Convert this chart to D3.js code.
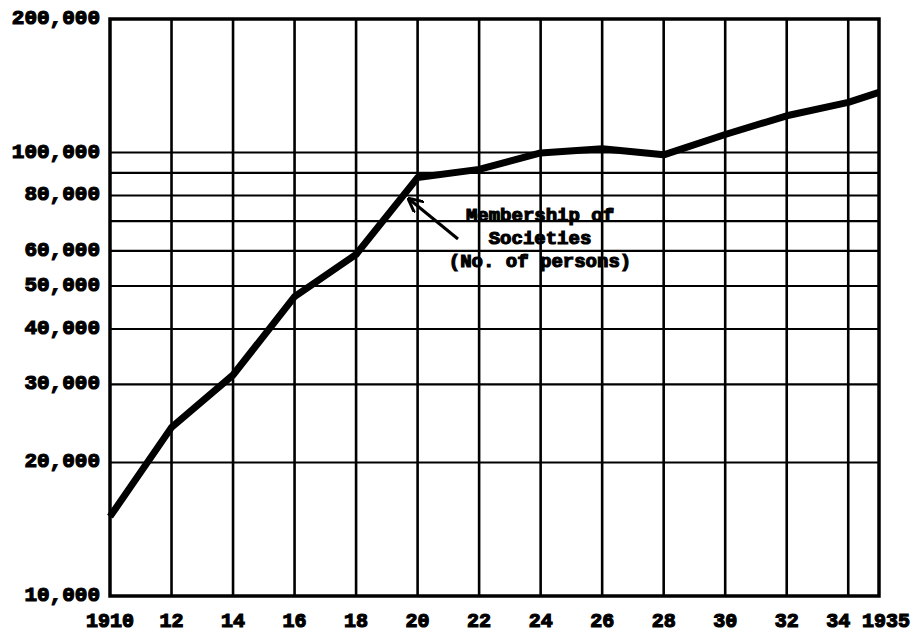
<!doctype html>
<html lang="en">
<head>
<meta charset="utf-8">
<title>Membership of Societies</title>
<script src="https://d3js.org/d3.v7.min.js"></script>
<style>
body { margin: 0; background: #fff; }
svg { display: block; }
text {
  font-family: 'Liberation Mono', 'DejaVu Sans Mono', monospace;
  font-weight: bold;
  font-size: 21px;
  fill: #000;
  stroke: #000;
  stroke-width: 1.2px;
}
.grid line { stroke: #000; }
</style>
</head>
<body>
<svg width="923" height="635"></svg>
<script>
// membership of societies, number of persons (log scale)
const years = [1910, 1912, 1914, 1916, 1918, 1920, 1922, 1924, 1926, 1928, 1930, 1932, 1934, 1935];
const members = [15100, 24000, 31500, 47300, 58900, 87800, 91600, 99800, 102000, 98800, 109800, 121000, 129700, 136600];

const xTickYears = [1910, 1912, 1914, 1916, 1918, 1920, 1922, 1924, 1926, 1928, 1930, 1932, 1934, 1935];
const xTickLabels = ['1910', '12', '14', '16', '18', '20', '22', '24', '26', '28', '30', '32', '34', '1935'];
const yGridValues = [20000, 30000, 40000, 50000, 60000, 70000, 80000, 90000, 100000];
const yLabelValues = [10000, 20000, 30000, 40000, 50000, 60000, 80000, 100000, 200000];

const annotation = ['Membership of', 'Societies', '(No. of persons)'];

const svg = d3.select('svg');
const mLeft = 110, mRight = 879, mTop = 19, mBottom = 596;

const x = d3.scaleLinear().domain([1910, 1935]).range([mLeft, mRight]);
const y = d3.scaleLog().domain([10000, 200000]).range([mBottom, mTop]);

// horizontal grid
svg.append('g').attr('class', 'grid')
  .selectAll('line').data(yGridValues).enter().append('line')
  .attr('x1', mLeft).attr('x2', mRight)
  .attr('y1', d => y(d)).attr('y2', d => y(d))
  .attr('stroke-width', 2.2);

// vertical grid
svg.append('g').attr('class', 'grid')
  .selectAll('line').data(xTickYears.slice(1, -1)).enter().append('line')
  .attr('x1', d => x(d)).attr('x2', d => x(d))
  .attr('y1', mTop).attr('y2', mBottom)
  .attr('stroke-width', 2.6);

// frame
svg.append('rect')
  .attr('x', mLeft).attr('y', mTop)
  .attr('width', mRight - mLeft).attr('height', mBottom - mTop)
  .attr('fill', 'none').attr('stroke', '#000').attr('stroke-width', 3.5);

// y labels
const fmt = d3.format(',');
svg.append('g').selectAll('text').data(yLabelValues).enter().append('text')
  .attr('x', 100)
  .attr('y', d => y(d) + 5)
  .attr('text-anchor', 'end')
  .text(d => fmt(d));

// x labels
const dxShift = { '34': -10, '1935': 7 };
svg.append('g').selectAll('text').data(xTickYears).enter().append('text')
  .attr('x', (d, i) => x(d) + (dxShift[xTickLabels[i]] || 0))
  .attr('y', 627)
  .attr('text-anchor', 'middle')
  .style('font-size', '20px')
  .text((d, i) => xTickLabels[i]);

// data line
const line = d3.line()
  .x((d, i) => x(years[i]))
  .y(d => y(d));

svg.append('path')
  .datum(members)
  .attr('d', line)
  .attr('fill', 'none')
  .attr('stroke', '#000')
  .attr('stroke-width', 7)
  .attr('stroke-linejoin', 'round');

// annotation
svg.append('g').selectAll('text').data(annotation).enter().append('text')
  .attr('x', 540)
  .attr('y', (d, i) => 221 + i * 23)
  .attr('text-anchor', 'middle')
  .style('font-size', '19px')
  .text(d => d);

svg.append('defs').append('marker')
  .attr('id', 'arrow')
  .attr('viewBox', '0 0 10 10')
  .attr('refX', 9).attr('refY', 5)
  .attr('markerWidth', 5).attr('markerHeight', 5)
  .attr('orient', 'auto')
  .append('path')
  .attr('d', 'M0,0 L10,5 L0,10')
  .attr('fill', 'none')
  .attr('stroke', '#000')
  .attr('stroke-width', 2);

svg.append('line')
  .attr('x1', 458).attr('y1', 239)
  .attr('x2', 409).attr('y2', 199)
  .attr('stroke', '#000')
  .attr('stroke-width', 3)
  .attr('marker-end', 'url(#arrow)');
</script>
</body>
</html>
